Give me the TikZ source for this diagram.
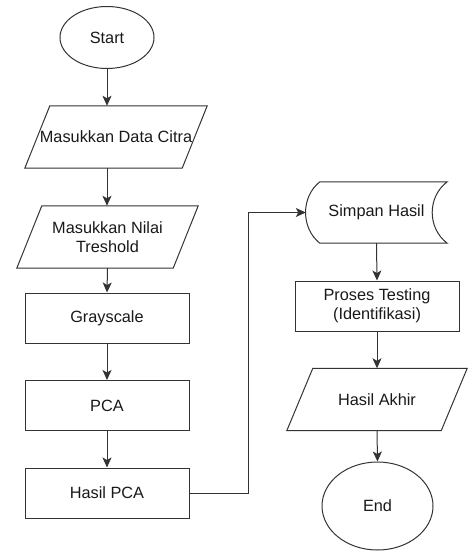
\documentclass[tikz,border=0pt]{standalone}
\usepackage{fontspec}
\setmainfont{Liberation Sans}
\usetikzlibrary{arrows.meta,shapes.geometric}
\begin{document}
\begin{tikzpicture}[x=1pt,y=-1pt,
  every node/.style={font=\fontsize{16.3}{18.5}\selectfont, align=center, inner sep=0pt, text=black!90},
  line/.style={draw=black!80, line width=1pt},
  arrow/.style={line, -{Stealth[length=10pt,width=9pt,inset=2.5pt]}},
  term/.style={line, ellipse, minimum width=#1},
  procbox/.style={line, rectangle, minimum width=164pt, minimum height=50pt},
  iobox/.style={rectangle, minimum height=62pt, minimum width=#1},
  storebox/.style={rectangle, minimum width=141pt, minimum height=61pt}
]
\useasboundingbox (0,0) rectangle (467,553);

\node[term=94pt, minimum height=62pt] (start) at (107,37.5) {Start};
\node[iobox=182pt] (citra) at (116,137) {Masukkan Data Citra};
\draw[line] ([xshift=25pt]citra.north west) -- (citra.north east) -- ([xshift=-25pt]citra.south east) -- (citra.south west) -- cycle;
\node[iobox=181pt] (thr) at (107.5,237) {Masukkan Nilai\\Treshold};
\draw[line] ([xshift=25pt]thr.north west) -- (thr.north east) -- ([xshift=-25pt]thr.south east) -- (thr.south west) -- cycle;
\node[procbox] (gray) at (107,318) {Grayscale};
\node[procbox] (pca) at (107,405.5) {PCA};
\node[procbox] (hpca) at (107,493) {Hasil PCA};

\node[storebox] (simpan) at (376.5,212.5) {Simpan Hasil};
\draw[line] ([xshift=14pt]simpan.north west) -- (simpan.north east)
   .. controls ([xshift=-20pt,yshift=-15pt]simpan.north east) and ([xshift=-20pt,yshift=15pt]simpan.south east) .. (simpan.south east)
   -- ([xshift=14pt]simpan.south west)
   .. controls ([xshift=-5pt,yshift=15pt]simpan.south west) and ([xshift=-5pt,yshift=-15pt]simpan.north west) .. ([xshift=14pt]simpan.north west) -- cycle;
\node[procbox] (test) at (377,306) {Proses Testing\\(Identifikasi)};
\node[iobox=180pt] (akhir) at (377,399.5) {Hasil Akhir};
\draw[line] ([xshift=26pt]akhir.north west) -- (akhir.north east) -- ([xshift=-26pt]akhir.south east) -- (akhir.south west) -- cycle;
\node[term=111pt, minimum height=88pt] (end) at (377.5,506) {End};

\coordinate (bend) at (248,492);

\draw[arrow] (start.south) -- (start.south |- citra.north);
\draw[arrow] (start.south |- citra.south) -- (start.south |- thr.north);
\draw[arrow] (thr.south) -- (gray.north);
\draw[arrow] (gray.south) -- (pca.north);
\draw[arrow] (pca.south) -- (hpca.north);
\draw[arrow] (hpca.east) -- (hpca.east -| bend) -- (bend |- simpan.west) -- (simpan.west);
\draw[arrow] (simpan.south) -- (test.north);
\draw[arrow] (test.south) -- (akhir.north);
\draw[arrow] (akhir.south) -- (end.north);
\end{tikzpicture}
\end{document}
